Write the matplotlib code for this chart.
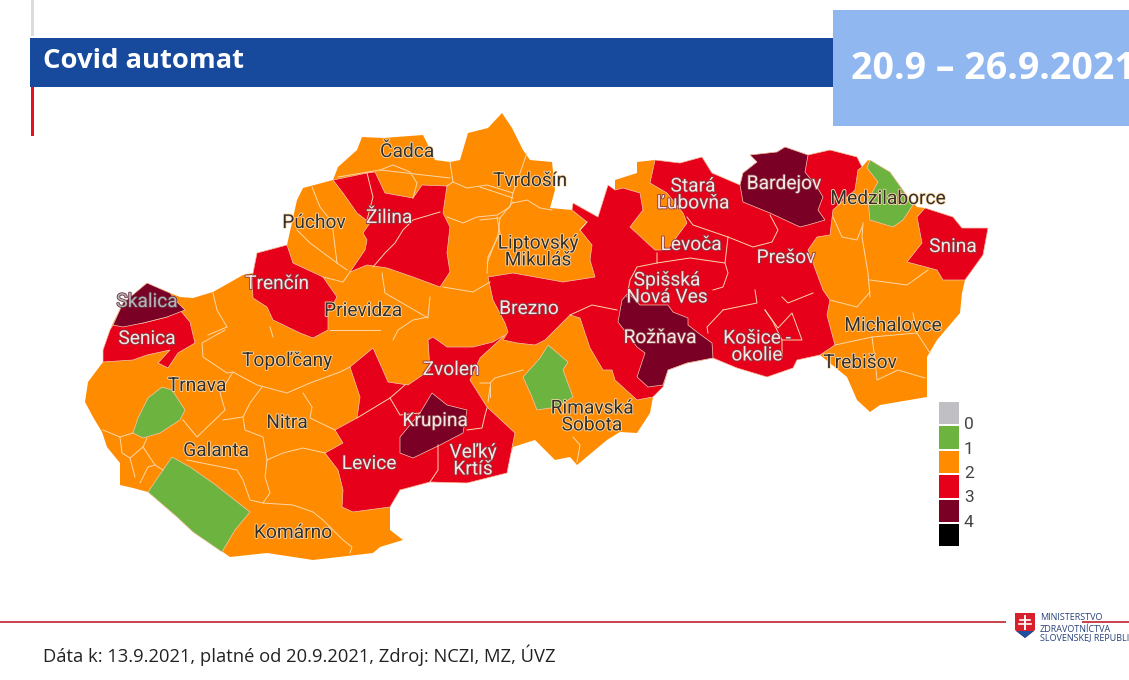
import matplotlib
matplotlib.use('Agg')
import matplotlib.pyplot as plt
import matplotlib.patheffects as pe
from matplotlib.patches import Polygon, Rectangle

country = [(147,283),(170,293),(180,297),(193,298),(213,292),(243,275),(253,273),(257,253),(287,245),(297,200),(303,188),(333,180),
           (338,167),(357,150),(362,137),(383,138),(423,135),(427,143),(435,160),(450,162),(460,160),(468,133),(488,128),(502,113),
           (512,128),(523,150),(530,160),(552,162),(555,190),(550,208),(572,210),(573,203),(598,217),(608,185),(615,190),(615,180),
           (637,173),(637,162),(655,160),(680,163),(702,157),(712,173),(740,185),(743,173),(757,162),(750,155),(777,152),(785,147),
           (808,155),(830,150),(857,157),(862,167),(868,160),(890,172),(905,193),(917,207),(925,208),(953,217),(962,228),(988,228),
           (983,255),(965,280),(962,293),(960,313),(937,340),(927,357),(927,397),(880,405),(870,412),(857,400),(847,377),(820,355),
           (797,360),(793,368),(767,377),(737,368),(713,358),(687,363),(668,370),(663,387),(653,397),(650,413),(637,433),(620,432),
           (607,440),(577,465),(570,457),(555,460),(535,440),(513,447),(508,463),(507,473),(467,483),(430,482),(400,490),(390,507),
           (390,530),(403,540),(380,547),(373,553),(313,560),(267,553),(230,557),(220,550),(193,532),(177,517),(148,492),(133,488),
           (120,485),(120,463),(107,447),(102,432),(93,417),(85,402),(88,382),(103,362),(103,350),(110,330),(113,323),(123,303)]

# covid levels, one shape each
skalica = [(113,325),(123,303),(147,283),(170,293),(178,303),(185,310),(167,317),(143,323),(123,327)]
senica = [(113,325),(143,323),(167,317),(180,310),(190,322),(195,343),(178,353),(168,368),(158,363),(170,350),(147,355),(133,360),
          (103,362),(103,350),(110,330)]
trencin = [(253,273),(257,253),(287,245),(293,263),(323,277),(337,297),(328,313),(328,330),(313,338),(300,333),(273,320),(267,307),
           (253,298),(252,280)]
zilina = [(333,180),(367,173),(375,172),(385,193),(413,198),(422,185),(447,186),(443,213),(450,227),(447,253),(450,272),(440,287),
          (413,277),(387,268),(367,265),(350,272),(365,250),(367,240),(363,233),(370,223),(357,213),(343,193)]
levice = [(373,348),(382,368),(388,382),(408,385),(430,370),(428,340),(433,337),(447,347),(473,347),(493,342),(505,335),(480,358),
          (470,380),(487,407),(515,433),(507,473),(467,483),(430,482),(400,490),(390,507),(353,512),(342,507),(343,490),(338,470),
          (325,453),(343,443),(335,430),(357,418),(360,397),(350,367)]
krupina = [(432,393),(447,405),(467,410),(463,433),(440,445),(413,458),(400,453),(400,437),(420,413)]
hlohovec = [(162,387),(172,390),(185,410),(180,420),(160,433),(143,438),(133,433),(138,418),(148,398)]
dunajska = [(172,457),(190,467),(213,483),(250,512),(235,530),(222,552),(193,532),(177,517),(148,492),(163,470)]
poltar = [(548,345),(568,362),(563,370),(573,397),(557,407),(537,410),(532,397),(523,377),(540,358)]
medzilaborce = [(870,160),(890,172),(905,193),(913,205),(903,220),(893,227),(870,220),(868,200),(878,182),(867,168)]
snina = [(925,208),(953,217),(962,228),(988,228),(983,255),(965,280),(943,280),(937,270),(907,262),(922,243),(917,217)]
east = [(488,277),(493,300),(505,323),(508,332),(503,340),(517,343),(535,345),(545,340),(570,315),(580,318),(590,348),(603,370),
        (612,370),(615,380),(637,400),(653,397),(663,387),(668,370),(687,363),(713,358),(737,368),(767,377),(793,368),(797,360),
        (820,355),(835,345),(827,315),(830,300),(823,290),(813,263),(808,250),(817,237),(830,235),(833,210),(855,190),(858,170),
        (862,167),(857,157),(830,150),(808,155),(785,147),(777,152),(750,155),(757,162),(743,173),(740,185),(712,173),(702,157),
        (680,163),(655,160),(650,183),(667,193),(683,213),(687,223),(667,250),(655,250),(630,227),(643,210),(640,193),(623,188),
        (615,190),(608,185),(598,217),(573,203),(572,210),(587,222),(580,230),(592,245),(590,260),(595,277),(563,282),(513,273)]
bardejov = [(750,155),(777,152),(785,147),(808,155),(805,172),(817,187),(823,197),(818,210),(825,220),(808,225),(800,227),(770,213),
            (743,202),(740,185),(743,173),(757,162)]
roznava = [(628,293),(622,300),(618,322),(637,347),(645,353),(637,377),(648,387),(663,385),(668,370),(687,363),(713,358),(712,343),
           (697,332),(688,325),(688,318),(673,312),(668,305),(640,305)]

region_shapes = [east, levice, zilina, trencin, senica, snina, skalica, krupina, bardejov, roznava,
                 hlohovec, dunajska, poltar, medzilaborce]
region_levels = [3, 3, 3, 3, 3, 3, 4, 4, 4, 4, 1, 1, 1, 1]

# district borders inside the colour groups
borders = [
    [(312,187),(320,207),(332,222),(335,247),(337,263),(347,270)],
    [(297,230),(310,243),(337,263)],
    [(367,173),(373,197),(367,220)],
    [(440,212),(413,220),(403,230),(395,243),(385,253),(373,267)],
    [(338,177),(380,170),(393,165),(410,172),(417,183),(413,198)],
    [(380,170),(450,178)],
    [(450,162),(453,182),(447,186)],
    [(453,182),(467,188),(487,185),(513,193),(527,153)],
    [(513,193),(510,207),(497,215),(477,217),(463,223),(447,217)],
    [(513,203),(527,200),(540,208),(552,210)],
    [(497,217),(500,233),(488,257),(487,273)],
    [(443,287),(473,292),(490,282)],
    [(430,297),(428,317),(413,320),(398,330),(393,340)],
    [(382,273),(385,293),(428,318)],
    [(213,293),(217,310),(227,327),(208,335)],
    [(270,327),(273,337)],
    [(323,277),(343,282),(350,272)],
    [(330,330),(380,330)],
    [(225,330),(202,343),(203,357),(227,373),(233,372),(257,385),(287,393),(310,383),(340,372),(350,367)],
    [(233,372),(228,380),(220,393),(225,410),(197,437),(183,420)],
    [(262,387),(250,403),(243,417),(223,420)],
    [(243,417),(245,430),(263,437),(267,460),(283,453),(303,448),(325,453)],
    [(303,393),(312,407),(310,418),(335,430)],
    [(267,460),(265,477),(270,493),(263,503),(293,505),(313,512),(323,520),(343,540),(352,547),(350,553)],
    [(187,460),(237,470),(243,480),(250,500),(263,503)],
    [(103,430),(120,437),(133,433)],
    [(120,437),(122,453),(130,458),(143,447),(147,438)],
    [(130,458),(135,477)],
    [(143,447),(155,465),(163,470)],
    [(140,483),(148,467),(155,465)],
    [(405,385),(390,398),(400,415),(420,413)],
    [(357,418),(390,398)],
    [(438,445),(438,470),(430,482)],
    [(467,430),(482,428),(485,415),(487,408)],
    [(490,387),(488,402)],
    [(480,383),(490,383),(495,378),(523,370)],
    [(490,383),(490,397)],
    [(573,437),(580,445),(577,462)],
    [(570,315),(592,305),(617,310)],
    [(723,310),(707,327),(708,333)],
    [(723,310),(757,303),(755,290)],
    [(765,310),(773,322),(782,340),(782,357)],
    [(765,310),(778,328),(792,313),(802,340),(782,340)],
    [(782,297),(788,303),(813,293)],
    [(830,300),(857,307),(870,292)],
    [(872,337),(875,360),(877,380),(898,370),(925,378)],
    [(835,345),(872,337),(917,333)],
    [(913,313),(917,333),(930,353)],
    [(480,187),(513,198)],
    [(513,202),(500,218),(480,220)],
    [(500,218),(498,235),(487,263)],
    [(580,230),(587,222)],
    [(657,253),(657,263),(637,267),(630,280),(627,297)],
    [(687,217),(693,225),(728,237),(753,247),(772,242),(778,230),(770,215)],
    [(728,237),(725,263),(728,273),(723,287),(713,290)],
    [(863,223),(862,237),(868,273),(870,297)],
    [(870,280),(907,285),(928,270)],
    [(833,217),(842,237),(857,240),(862,227)],
    [(657,263),(690,258),(725,263)],
]

district_names = ['Čadca', 'Tvrdošín', 'Púchov', 'Žilina', 'Stará\nĽubovňa', 'Bardejov', 'Medzilaborce',
                  'Liptovský\nMikuláš', 'Levoča', 'Prešov', 'Snina', 'Trenčín', 'Skalica', 'Prievidza', 'Brezno',
                  'Spišská\nNová Ves', 'Senica', 'Rožňava', 'Košice -\nokolie', 'Michalovce', 'Topoľčany', 'Zvolen',
                  'Trebišov', 'Trnava', 'Rimavská\nSobota', 'Krupina', 'Nitra', 'Galanta', 'Levice', 'Veľký\nKrtíš',
                  'Komárno']
district_x = [407, 530, 314, 389, 693, 784, 888, 538, 691, 786, 953, 277, 147, 363, 529, 667, 147, 660, 757, 893,
              287, 451, 860, 197, 592, 435, 287, 216, 369, 473, 293]
district_y = [152, 181, 223, 218, 195, 184, 199, 252, 245, 258, 247, 284, 302, 311, 309, 289, 339, 338, 347, 326,
              361, 370, 363, 386, 417, 421, 423, 451, 464, 461, 533]
light_names = ['Žilina', 'Stará\nĽubovňa', 'Bardejov', 'Levoča', 'Prešov', 'Snina', 'Trenčín', 'Brezno',
               'Spišská\nNová Ves', 'Senica', 'Rožňava', 'Košice -\nokolie', 'Zvolen', 'Krupina', 'Levice',
               'Veľký\nKrtíš']

legend_labels = ['0', '1', '2', '3', '4']
level_colors = ['#c0c0c4', '#6db33f', '#ff8c00', '#e60019', '#7a0026', '#000000']

title_text = 'Covid automat'
date_text = '20.9 – 26.9.2021'
source_text = 'Dáta k: 13.9.2021, platné od 20.9.2021, Zdroj: NCZI, MZ, ÚVZ'
ministry_lines = ['MINISTERSTVO', 'ZDRAVOTNÍCTVA', 'SLOVENSKEJ REPUBLIKY']

fig = plt.figure(figsize=(11.29, 6.8), dpi=100)
ax = fig.add_axes([0, 0, 1, 1])
ax.set_xlim(0, 1129)
ax.set_ylim(680, 0)
ax.axis('off')

# header
ax.add_patch(Rectangle((31, 0), 3, 36, color='#dcdcdc', lw=0))
ax.add_patch(Rectangle((31, 87), 3, 49, color='#e8101e', lw=0))
ax.add_patch(Rectangle((30, 38), 803, 49, color='#174a9c', lw=0))
ax.add_patch(Rectangle((833, 10), 296, 116, color='#90b7f0', lw=0))
ax.text(43, 61, title_text, color='white', fontsize=19.7, fontweight='bold', family='Open Sans', va='center')
ax.text(851, 69, date_text, color='white', fontsize=27, fontweight='bold', family='Open Sans', va='center')

# map
ax.add_patch(Polygon(country, closed=True, fc=level_colors[2], ec='none', zorder=2))
for shape, level in zip(region_shapes, region_levels):
    ax.add_patch(Polygon(shape, closed=True, fc=level_colors[level], ec='#f6c8b0', lw=0.5, zorder=3))
for line in borders:
    ax.plot([p[0] for p in line], [p[1] for p in line], color='#fbd7a8', lw=0.7, zorder=4)

for name, x, y in zip(district_names, district_x, district_y):
    if name == 'Skalica':
        col, halo = '#b4b4b8', '#6a3040'
    elif name in light_names:
        col, halo = '#f8e6e6', '#8a3a40'
    else:
        col, halo = '#33302c', '#ffdcae'
    ax.text(x, y, name, color=col, fontsize=13.8, family='Roboto', ha='center', va='center', linespacing=0.92, zorder=5,
            path_effects=[pe.withStroke(linewidth=1.2, foreground=halo)])

# legend
for i, col in enumerate(level_colors):
    ax.add_patch(Rectangle((939, 402 + i * 24.4), 20, 22.4, color=col, lw=0))
for i, lab in enumerate(legend_labels):
    ax.text(964, 424.5 + i * 24.5, lab, color='#444444', fontsize=12.5, family='Roboto', va='center')

# footer
ax.plot([0, 1005], [622, 622], color='#c9404c', lw=1.4)
ax.plot([1083, 1129], [622, 622], color='#c9404c', lw=1.4)
ax.add_patch(Polygon([(1015,613),(1035,613),(1035,630),(1025,638),(1015,630)], closed=True, fc='#d8202c', ec='none'))
ax.add_patch(Polygon([(1016,631),(1034,631),(1025,638)], closed=True, fc='#1f4f9f', ec='none'))
ax.plot([1025, 1025], [616, 629], color='white', lw=1.4)
ax.plot([1020, 1030], [620, 620], color='white', lw=1.2)
ax.plot([1019, 1031], [624, 624], color='white', lw=1.2)
for y, line in zip([617, 630, 638], ministry_lines):
    ax.text(1040, y, line, color='#27407a', fontsize=6.5, family='Open Sans', va='center', clip_on=True)
ax.text(43, 655, source_text, color='#222222', fontsize=13.2, family='Open Sans', va='center')

fig.savefig('out.png', dpi=100)
